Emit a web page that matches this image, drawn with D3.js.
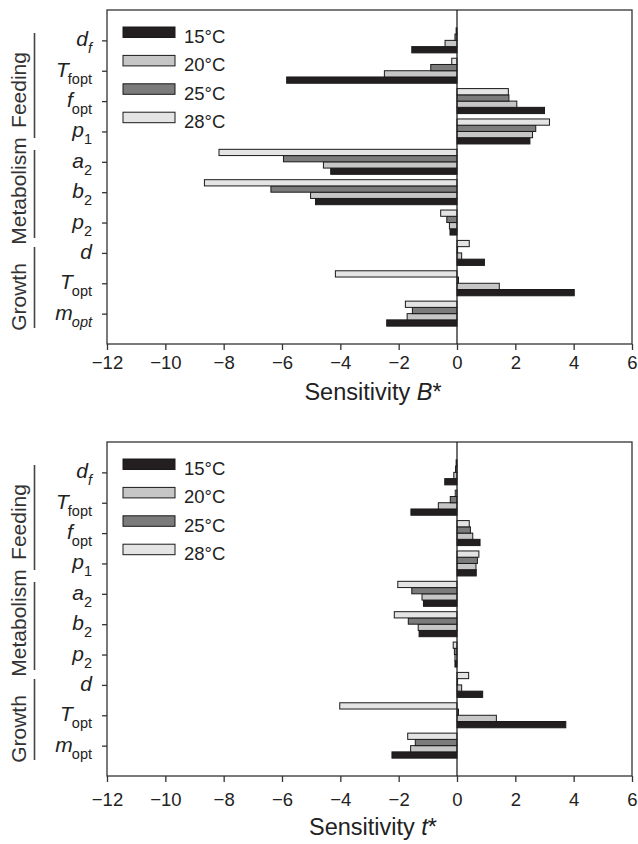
<!DOCTYPE html>
<html>
<head>
<meta charset="utf-8">
<script src="https://cdn.jsdelivr.net/npm/d3@7"></script>
<style>
  body { margin: 0; background: #fff; }
  svg { font-family: "Liberation Sans", Arial, Helvetica, sans-serif; }
</style>
</head>
<body>
<svg width="638" height="844"></svg>
<script>
// parameters, top to bottom
let params = ["df", "Tfopt", "fopt", "p1", "a2", "b2", "p2", "d", "Topt", "mopt"];
let labelMain = ["d", "T", "f", "p", "a", "b", "p", "d", "T", "m"];
let labelSub = ["f", "fopt", "opt", "1", "2", "2", "2", "", "opt", "opt"];
let subItalicTop = [true, false, false, false, false, false, false, false, false, true];
let subItalicBottom = [true, false, false, false, false, false, false, false, false, false];

let temps = ["15°C", "20°C", "25°C", "28°C"];
let tempColors = ["#231f20", "#c6c6c6", "#7b7b7b", "#e4e4e4"];
let barOrder = ["28°C", "25°C", "20°C", "15°C"];

// Sensitivity B*
let bStar15 = [-1.55, -5.84, 3.0, 2.5, -4.33, -4.85, -0.24, 0.94, 4.02, -2.41];
let bStar20 = [-0.41, -2.49, 2.05, 2.59, -4.58, -5.02, -0.26, 0.16, 1.45, -1.71];
let bStar25 = [-0.07, -0.9, 1.78, 2.70, -5.95, -6.38, -0.35, 0.02, 0.05, -1.53];
let bStar28 = [-0.03, -0.18, 1.76, 3.17, -8.16, -8.66, -0.56, 0.42, -4.17, -1.77];

// Sensitivity t*
let tStar15 = [-0.42, -1.58, 0.79, 0.66, -1.15, -1.30, -0.07, 0.88, 3.73, -2.23];
let tStar20 = [-0.11, -0.64, 0.54, 0.65, -1.2, -1.33, -0.07, 0.16, 1.35, -1.59];
let tStar25 = [-0.05, -0.23, 0.46, 0.70, -1.55, -1.67, -0.09, 0.02, 0.05, -1.43];
let tStar28 = [-0.03, -0.06, 0.42, 0.75, -2.03, -2.15, -0.13, 0.40, -4.02, -1.69];

let xTicks = [-12, -10, -8, -6, -4, -2, 0, 2, 4, 6];

let groups = [
  {name: "Feeding", y0: 23, y1: 128, mid: 80},
  {name: "Metabolism", y0: 140, y1: 228, mid: 181},
  {name: "Growth", y0: 237, y1: 318, mid: 287}
];

let svg = d3.select("svg");

let left = 107, right = 632;
let x = d3.scaleLinear().domain([-12, 6]).range([left, right]);

function drawPanel(top, bottom, series, titleVar, subItalic, tickOff) {
  let g = svg.append("g");

  let y = d3.scalePoint().domain(params).range([top, bottom]).padding(1);
  let yInner = d3.scaleBand().domain(barOrder).range([-12.5, 12.5]);

  let rows = [];
  params.forEach((p, i) => {
    temps.forEach((t, j) => {
      rows.push({param: p, temp: t, value: series[j][i], color: tempColors[j]});
    });
  });

  g.selectAll("rect.bar")
    .data(rows)
    .enter()
    .append("rect")
    .attr("class", "bar")
    .attr("x", d => x(Math.min(0, d.value)))
    .attr("width", d => Math.abs(x(d.value) - x(0)))
    .attr("y", d => y(d.param) + yInner(d.temp))
    .attr("height", yInner.bandwidth())
    .attr("fill", d => d.color)
    .attr("stroke", "#1a1a1a")
    .attr("stroke-width", 1);

  // frame
  g.append("rect")
    .attr("x", left).attr("y", top)
    .attr("width", right - left).attr("height", bottom - top)
    .attr("fill", "none").attr("stroke", "#333").attr("stroke-width", 1.3);

  // zero line
  g.append("line")
    .attr("x1", x(0)).attr("x2", x(0))
    .attr("y1", top).attr("y2", bottom)
    .attr("stroke", "#222").attr("stroke-width", 1.3);

  // x axis
  let xa = g.append("g")
    .attr("transform", "translate(0," + bottom + ")")
    .call(d3.axisBottom(x).tickValues(xTicks).tickSize(6).tickPadding(tickOff));
  xa.select(".domain").remove();
  xa.selectAll("line").attr("stroke", "#333").attr("stroke-width", 1.3);
  xa.selectAll("text").attr("font-size", 18.5).attr("fill", "#222")
    .attr("font-family", "'Liberation Sans', Arial, sans-serif");

  // y axis ticks
  let ya = g.append("g")
    .attr("transform", "translate(" + left + ",0)")
    .call(d3.axisLeft(y).tickSize(5).tickFormat(""));
  ya.select(".domain").remove();
  ya.selectAll("line").attr("stroke", "#333").attr("stroke-width", 1.3);

  // parameter labels
  params.forEach((p, i) => {
    let t = g.append("text")
      .attr("x", 92)
      .attr("y", y(p) + 6)
      .attr("text-anchor", "end")
      .attr("fill", "#222");
    t.append("tspan")
      .attr("font-size", 21)
      .attr("font-style", "italic")
      .text(labelMain[i]);
    if (labelSub[i]) {
      t.append("tspan")
        .attr("font-size", 14.5)
        .attr("dy", 7)
        .attr("dx", labelSub[i].length > 1 ? -1 : 0)
        .attr("font-style", subItalic[i] ? "italic" : "normal")
        .text(labelSub[i]);
    }
  });

  // group labels
  groups.forEach(gr => {
    g.append("line")
      .attr("x1", 34.5).attr("x2", 34.5)
      .attr("y1", top + gr.y0).attr("y2", top + gr.y1)
      .attr("stroke", "#444").attr("stroke-width", 1.6);
    g.append("text")
      .attr("transform", "translate(26," + (top + gr.mid) + ") rotate(-90)")
      .attr("text-anchor", "middle")
      .attr("font-size", 21)
      .attr("fill", "#333")
      .text(gr.name);
  });

  // legend
  temps.forEach((t, j) => {
    let ly = top + 17 + j * 28.4;
    g.append("rect")
      .attr("x", 123).attr("y", ly)
      .attr("width", 52).attr("height", 10.5)
      .attr("fill", tempColors[j])
      .attr("stroke", "#1a1a1a").attr("stroke-width", 1);
    g.append("text")
      .attr("x", 184).attr("y", ly + 16)
      .attr("font-size", 18.5)
      .attr("fill", "#222")
      .text(t);
  });

  // axis title
  let title = g.append("text")
    .attr("x", 373)
    .attr("y", bottom + (tickOff > 10 ? 59 : 56))
    .attr("text-anchor", "middle")
    .attr("font-size", 23.5)
    .attr("fill", "#222");
  title.append("tspan").text("Sensitivity ");
  title.append("tspan").attr("font-style", "italic").text(titleVar);
  title.append("tspan").text("*");
}

drawPanel(10, 344, [bStar15, bStar20, bStar25, bStar28], "B", subItalicTop, 6);
drawPanel(442, 776, [tStar15, tStar20, tStar25, tStar28], "t", subItalicBottom, 11);
</script>
</body>
</html>
